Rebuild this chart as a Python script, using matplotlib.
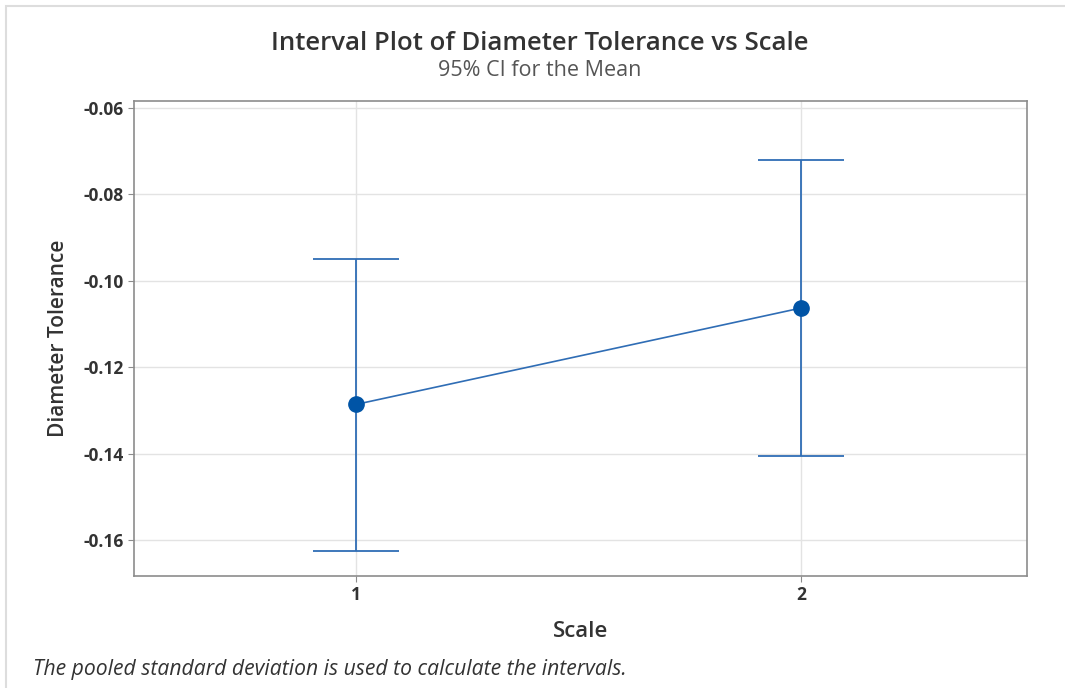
import matplotlib
matplotlib.use("Agg")
import matplotlib.pyplot as plt
from matplotlib.patches import Rectangle

# data
scale = [1, 2]
means = [-0.1286, -0.1063]
lower = [-0.1625, -0.1405]
upper = [-0.0949, -0.0721]
yticks = [-0.16, -0.14, -0.12, -0.10, -0.08, -0.06]

plt.rcParams['font.family'] = ['Open Sans', 'DejaVu Sans']

fig = plt.figure(figsize=(10.65, 6.88), dpi=100)
ax = fig.add_axes([134 / 1065, 1 - 576 / 688, (1027 - 134) / 1065, (576 - 101) / 688])

# light frame around the whole picture
fig.patches.append(Rectangle((6 / 1065, -0.1), 1.2, 1 - 6 / 688 + 0.1,
                             transform=fig.transFigure, fill=False,
                             edgecolor='#dddddd', linewidth=1.5))

line_c = '#2f6db5'
err_lo = [m - l for m, l in zip(means, lower)]
err_hi = [u - m for m, u in zip(means, upper)]
ax.errorbar(scale, means, yerr=[err_lo, err_hi], fmt='none', ecolor=line_c,
            elinewidth=1.3, capsize=31, capthick=1.3, zorder=3)
ax.plot(scale, means, color=line_c, linewidth=1.2, zorder=3)
ax.plot(scale, means, 'o', color='#0054a6', markersize=11, zorder=4)

ax.set_xlim(0.501, 2.508)
ax.set_ylim(-0.1683, -0.0584)
ax.set_xticks(scale)
ax.set_xticklabels(['1', '2'])
ax.set_yticks(yticks)
ax.set_yticklabels(['%.2f' % v for v in yticks])
ax.grid(True, color='#e3e3e3', linewidth=1)
ax.set_axisbelow(True)
for s in ax.spines.values():
    s.set_color('#8c8c8c')
    s.set_linewidth(1.2)
ax.tick_params(colors='#333333', labelsize=12.5, length=4, color='#8c8c8c')
for lab in ax.get_xticklabels() + ax.get_yticklabels():
    lab.set_fontweight('bold')

ax.set_xlabel('Scale', fontsize=16, color='#333333', fontweight='semibold', labelpad=12)
ax.set_ylabel('Diameter Tolerance', fontsize=15, color='#333333', fontweight='semibold', labelpad=10)

fig.text(540 / 1065, 1 - 43 / 688, 'Interval Plot of Diameter Tolerance vs Scale',
         ha='center', va='center', fontsize=18.5, color='#333333', fontweight='semibold')
fig.text(540 / 1065, 1 - 71 / 688, '95% CI for the Mean',
         ha='center', va='center', fontsize=15.5, color='#555555')
fig.text(33 / 1065, 1 - 669 / 688, 'The pooled standard deviation is used to calculate the intervals.',
         ha='left', va='center', fontsize=15.2, color='#333333', style='italic')

fig.savefig('out.png', dpi=100)
